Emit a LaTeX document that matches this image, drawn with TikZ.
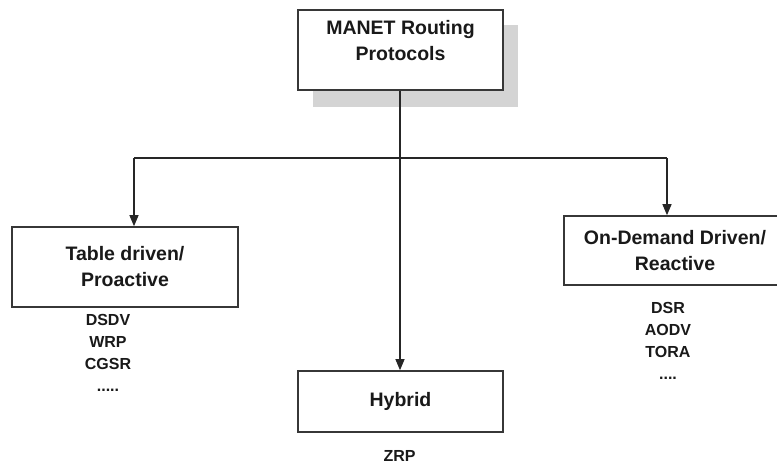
\documentclass[tikz,border=0pt]{standalone}
\usepackage{fontspec}
\setmainfont{Liberation Sans}
\usetikzlibrary{arrows.meta,calc}
\definecolor{boxline}{RGB}{55,55,55}
\definecolor{shadowgray}{RGB}{212,212,212}
\begin{document}
\begin{tikzpicture}[x=1pt,y=-1pt,
  box/.style={draw=boxline,line width=1.6pt,fill=white,rectangle,inner sep=0pt},
  boxtext/.style={font=\bfseries\fontsize{19.5}{26}\selectfont,align=center,text=black!90},
  itemtext/.style={font=\bfseries\fontsize{16}{22}\selectfont,text=black!90,inner sep=0pt,anchor=base},
  conn/.style={draw=black!85,line width=1.1pt},
  arr/.style={conn,-{Triangle[length=11pt,width=9pt]}}]
\path[use as bounding box,clip] (0,0) rectangle (777,464);
\fill[white] (0,0) rectangle (777,464);
% shadow of top box
\fill[shadowgray] (313,25) rectangle (518,107);
% boxes
\node[box,minimum width=205pt,minimum height=80pt] (top) at (400.5,50) {};
\node[boxtext] (toplabel) at (400.5,40.5) {MANET Routing\\Protocols};
\node[box,boxtext,minimum width=226pt,minimum height=80pt] (tab) at (125,267) {Table driven/\\Proactive};
\node[box,boxtext,minimum width=222pt,minimum height=69pt] (dem) at (675,250.5) {On-Demand Driven/\\Reactive};
\node[box,boxtext,minimum width=205pt,minimum height=61pt] (hyb) at (400.5,401.5) {Hybrid};
% item lists
\node[itemtext] (dsdv) at (108,325) {DSDV};
\node[itemtext] (wrp) at (108,347) {WRP};
\node[itemtext] (cgsr) at (108,369) {CGSR};
\node[itemtext] (ldots) at (108,391) {.....};
\node[itemtext] (dsr) at (668,313) {DSR};
\node[itemtext] (aodv) at (668,335) {AODV};
\node[itemtext] (tora) at (668,357) {TORA};
\node[itemtext] (rdots) at (668,379) {....};
\node[itemtext] (zrp) at (399.5,461) {ZRP};
% connectors
\coordinate (j) at (400,158);
\coordinate (la) at (134,158);
\coordinate (ra) at (667,158);
\draw[arr] (top.south -| j) -- (hyb.north -| j);
\draw[conn] (la) -- (ra);
\draw[arr] (la) -- (la |- tab.north);
\draw[arr] (ra) -- (ra |- dem.north);
\end{tikzpicture}
\end{document}
